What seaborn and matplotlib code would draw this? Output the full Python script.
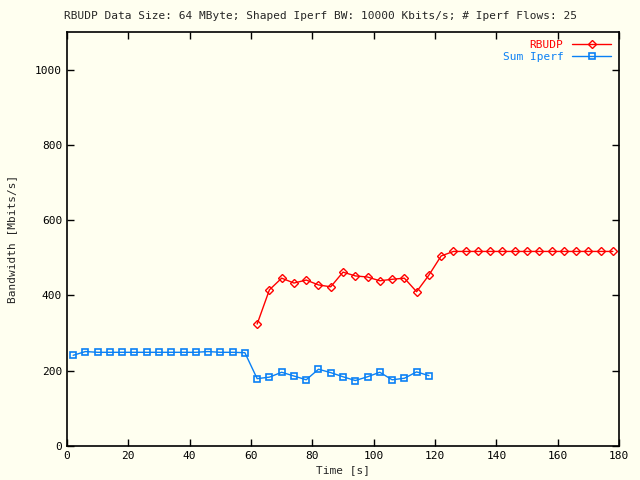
import matplotlib
matplotlib.use("Agg")
import matplotlib.pyplot as plt
import seaborn as sns
import pandas as pd

# Time stamps [s]
rbudp_time = [62, 66, 70, 74, 78, 82, 86, 90, 94, 98, 102, 106, 110, 114, 118,
              122, 126, 130, 134, 138, 142, 146, 150, 154, 158, 162, 166, 170, 174, 178]
iperf_time = [2, 6, 10, 14, 18, 22, 26, 30, 34, 38, 42, 46, 50, 54, 58,
              62, 66, 70, 74, 78, 82, 86, 90, 94, 98, 102, 106, 110, 114, 118]

# Bandwidth [Mbits/s]
rbudp_bw = [324, 415, 446, 433, 441, 428, 423, 462, 452, 449, 439, 443, 446, 410, 454,
            505, 517, 517, 517, 517, 517, 517, 517, 517, 517, 517, 517, 517, 517, 517]
iperf_bw = [241, 251, 249, 249, 249, 249, 249, 249, 249, 249, 249, 251, 249, 249, 248,
            179, 183, 196, 186, 176, 204, 195, 184, 174, 184, 196, 176, 180, 197, 187]

df_rbudp = pd.DataFrame({"Time": rbudp_time, "BW": rbudp_bw})
df_iperf = pd.DataFrame({"Time": iperf_time, "BW": iperf_bw})

red = "#ff0000"
blue = "#0a80f5"
bg = "#fffff0"

sns.set_style("ticks")
plt.rcParams["font.family"] = ["DejaVu Sans Mono"]
plt.rcParams["font.size"] = 8

fig = plt.figure(figsize=(6.4, 4.8), dpi=100, facecolor=bg)
ax = fig.add_axes([0.1047, 0.0708, 0.8625, 0.8625])
ax.set_facecolor(bg)

sns.lineplot(data=df_rbudp, x="Time", y="BW", ax=ax, color=red, linewidth=1,
             marker="D", markersize=4, markerfacecolor="none", markeredgecolor=red,
             markeredgewidth=1, label="RBUDP")
sns.lineplot(data=df_iperf, x="Time", y="BW", ax=ax, color=blue, linewidth=1,
             marker="s", markersize=5, markerfacecolor="none", markeredgecolor=blue,
             markeredgewidth=1.2, label="Sum Iperf")

ax.set_xlim(0, 180)
ax.set_ylim(0, 1100)
ax.set_xticks(range(0, 181, 20))
ax.set_yticks(range(0, 1001, 200))
ax.tick_params(direction="in", top=True, right=True, length=5, width=1, colors="black")
for s in ax.spines.values():
    s.set_linewidth(1.2)
    s.set_color("black")

ax.set_xlabel("Time [s]", labelpad=3)
ax.set_ylabel("Bandwidth [Mbits/s]", labelpad=13)
fig.suptitle("RBUDP Data Size: 64 MByte; Shaped Iperf BW: 10000 Kbits/s; # Iperf Flows: 25",
             y=0.978, fontsize=8)

leg = ax.legend(loc="upper right", frameon=False, markerfirst=False,
                handlelength=3.5, fontsize=8, borderaxespad=0.3, labelspacing=0.2)
for text, c in zip(leg.get_texts(), [red, blue]):
    text.set_color(c)

fig.savefig("out.png", dpi=100, facecolor=bg)
